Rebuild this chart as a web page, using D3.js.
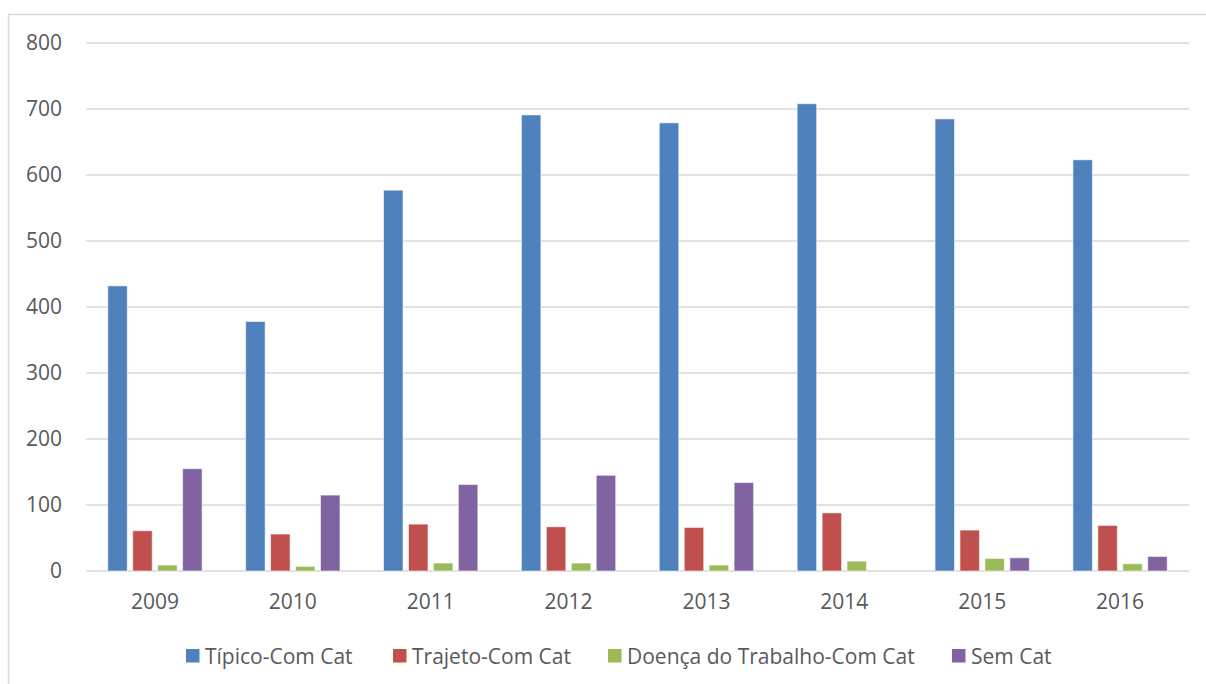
<!DOCTYPE html>
<html>
<head>
<meta charset="utf-8">
<script src="https://cdn.jsdelivr.net/npm/d3@7"></script>
<style>
  html, body { margin: 0; padding: 0; background: #fff; }
  svg { display: block; }
  text { font-family: "Open Sans", "Noto Sans", sans-serif; fill: #595959; }
</style>
</head>
<body>
<svg id="chart" width="1206" height="684"></svg>
<script>
const years = ["2009", "2010", "2011", "2012", "2013", "2014", "2015", "2016"];
const seriesNames = ["Típico-Com Cat", "Trajeto-Com Cat", "Doença do Trabalho-Com Cat", "Sem Cat"];
const seriesColors = ["#4F81BD", "#C0504D", "#9BBB59", "#8064A2"];
const tipico   = [432, 378, 577, 691, 679, 708, 685, 623];
const trajeto  = [61, 56, 71, 67, 66, 88, 62, 69];
const doenca   = [9, 7, 12, 12, 9, 15, 19, 11];
const semCat   = [155, 115, 131, 145, 134, 0, 20, 22];
const yTicks = [0, 100, 200, 300, 400, 500, 600, 700, 800];

const seriesValues = [tipico, trajeto, doenca, semCat];

const svg = d3.select("#chart");
const W = 1206, H = 684;
const plot = { left: 86, right: 1189, top: 43, bottom: 571 };

// outer chart border
svg.append("path")
  .attr("d", `M8.5,${H + 2} L8.5,14.5 L${W + 2},14.5`)
  .attr("fill", "none")
  .attr("stroke", "#d9d9d9")
  .attr("stroke-width", 1.5);

const y = d3.scaleLinear().domain([0, 800]).range([plot.bottom, plot.top]);
const x0 = d3.scaleBand().domain(years).range([plot.left, plot.right]).paddingInner(0).paddingOuter(0);
const bw = x0.bandwidth();
const pad = 21.8;
const x1 = d3.scaleBand().domain(seriesNames).range([pad, bw - pad]).paddingInner(0.22).paddingOuter(0);

// gridlines
const grid = svg.append("g").attr("class", "grid");
grid.selectAll("line").data(yTicks).join("line")
  .attr("x1", plot.left).attr("x2", plot.right)
  .attr("y1", d => y(d)).attr("y2", d => y(d))
  .attr("stroke", "#d9d9d9").attr("stroke-width", 1.4);

// y axis labels
const yAxis = d3.axisLeft(y).tickValues(yTicks).tickSize(0).tickPadding(0);
const yg = svg.append("g").attr("transform", `translate(62,0)`).call(yAxis);
yg.select(".domain").remove();
yg.selectAll("text").attr("font-size", 21).attr("fill", "#595959")
  .attr("font-family", "'Open Sans', sans-serif");

// x axis labels
const xAxis = d3.axisBottom(x0).tickSize(0).tickPadding(0);
const xg = svg.append("g").attr("transform", `translate(0,${plot.bottom})`).call(xAxis);
xg.select(".domain").remove();
xg.selectAll("text").attr("font-size", 21).attr("fill", "#595959")
  .attr("font-family", "'Open Sans', sans-serif")
  .attr("dy", null).attr("y", 38);

// bars
const groups = svg.append("g").selectAll("g").data(years).join("g")
  .attr("transform", d => `translate(${x0(d)},0)`);
groups.selectAll("rect")
  .data((d, i) => seriesNames.map((s, j) => ({ s, j, v: seriesValues[j][i] })))
  .join("rect")
  .filter(d => d.v > 0)
  .attr("x", d => x1(d.s))
  .attr("width", x1.bandwidth())
  .attr("y", d => y(d.v))
  .attr("height", d => y(0) - y(d.v))
  .attr("fill", d => seriesColors[d.j])
  .attr("stroke", "#ffffff")
  .attr("stroke-opacity", 0.55)
  .attr("stroke-width", 1);

// legend
const legendX = [186, 393, 608, 952];
const legend = svg.append("g");
const items = legend.selectAll("g").data(seriesNames).join("g")
  .attr("transform", (d, i) => `translate(${legendX[i]},649)`);
items.append("rect").attr("width", 13.5).attr("height", 13.5)
  .attr("fill", (d, i) => seriesColors[i]);
items.append("text").attr("x", 19).attr("y", 14.5)
  .attr("font-size", 21).text(d => d);
</script>
</body>
</html>
